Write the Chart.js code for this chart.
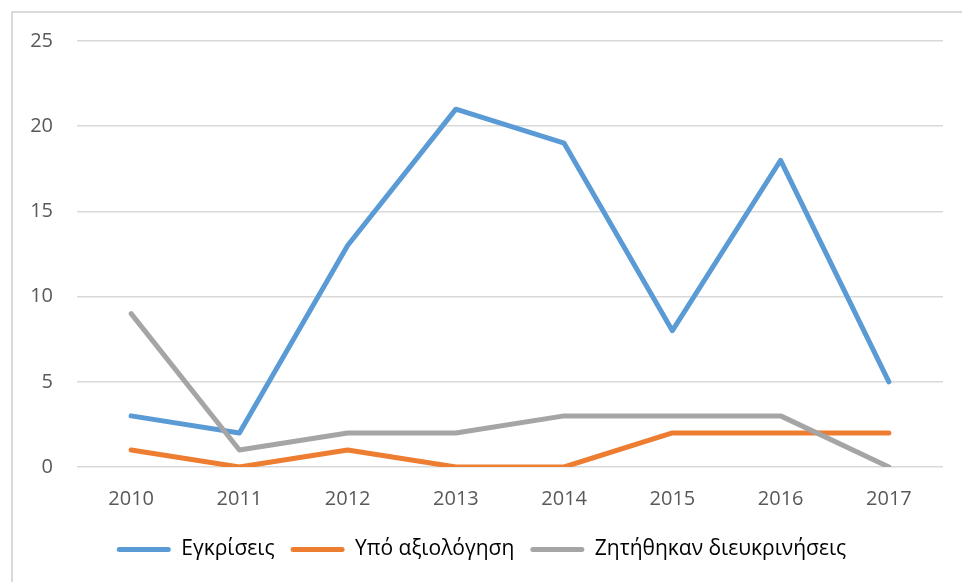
<!DOCTYPE html>
<html>
<head>
<meta charset="utf-8">
<script src="https://cdn.jsdelivr.net/npm/chart.js@4"></script>
<style>
  html, body { margin: 0; padding: 0; background: #fff; }
  #wrap { position: relative; width: 962px; height: 582px; }
  #frame { position: absolute; left: 11px; top: 11px; right: 0; bottom: 0;
           border-left: 2px solid #d9d9d9; border-top: 2px solid #d9d9d9; pointer-events: none; }
  canvas { position: absolute; left: 0; top: 0; }
</style>
</head>
<body>
<div id="wrap">
  <canvas id="c" width="962" height="582"></canvas>
  <div id="frame"></div>
</div>
<script>
const categories = ['2010', '2011', '2012', '2013', '2014', '2015', '2016', '2017'];
const seriesNames = ['Εγκρίσεις', 'Υπό αξιολόγηση', 'Ζητήθηκαν διευκρινήσεις'];
const approvals = [3, 2, 13, 21, 19, 8, 18, 5];
const underReview = [1, 0, 1, 0, 0, 2, 2, 2];
const clarifications = [9, 1, 2, 2, 3, 3, 3, 0];
const yTicks = [0, 5, 10, 15, 20, 25];

const colors = ['#5b9bd5', '#ed7d31', '#a5a5a5'];
const FONT = "'Open Sans', 'DejaVu Sans', sans-serif";

function ds(label, data, color, order) {
  return {
    label, data, order,
    borderColor: color, backgroundColor: color,
    borderWidth: 5, pointRadius: 0, pointHoverRadius: 0,
    tension: 0, borderCapStyle: 'round', borderJoinStyle: 'round', fill: false
  };
}

new Chart(document.getElementById('c'), {
  type: 'line',
  data: {
    labels: categories,
    datasets: [
      ds(seriesNames[0], approvals, colors[0], 2),
      ds(seriesNames[1], underReview, colors[1], 1),
      ds(seriesNames[2], clarifications, colors[2], 0)
    ]
  },
  options: {
    responsive: false,
    animation: false,
    devicePixelRatio: 1,
    layout: { padding: { left: 20, right: 19, top: 41, bottom: 12 } },
    plugins: {
      tooltip: { enabled: false },
      legend: {
        position: 'bottom',
        labels: {
          sort: (a, b) => a.datasetIndex - b.datasetIndex,
          boxWidth: 54, boxHeight: 5, padding: 16,
          color: '#595959',
          font: { family: FONT, size: 21 },
          generateLabels: (chart) => chart.data.datasets.map((d, i) => ({
            text: d.label, fillStyle: d.borderColor, strokeStyle: d.borderColor,
            lineWidth: 0, datasetIndex: i, borderRadius: 2.5, hidden: false
          }))
        }
      }
    },
    scales: {
      x: {
        offset: true,
        grid: { display: false },
        border: { display: false },
        ticks: { color: '#595959', font: { family: FONT, size: 20 }, padding: 12, maxRotation: 0 }
      },
      y: {
        min: 0, max: 25,
        afterBuildTicks: (s) => { s.ticks = yTicks.map(v => ({ value: v })); },
        afterFit: (s) => { s.width = 57; },
        grid: { color: '#d9d9d9', lineWidth: 1.5, drawTicks: false },
        border: { display: false },
        ticks: { color: '#595959', font: { family: FONT, size: 20 }, padding: 24 }
      }
    }
  }
});
</script>
</body>
</html>
